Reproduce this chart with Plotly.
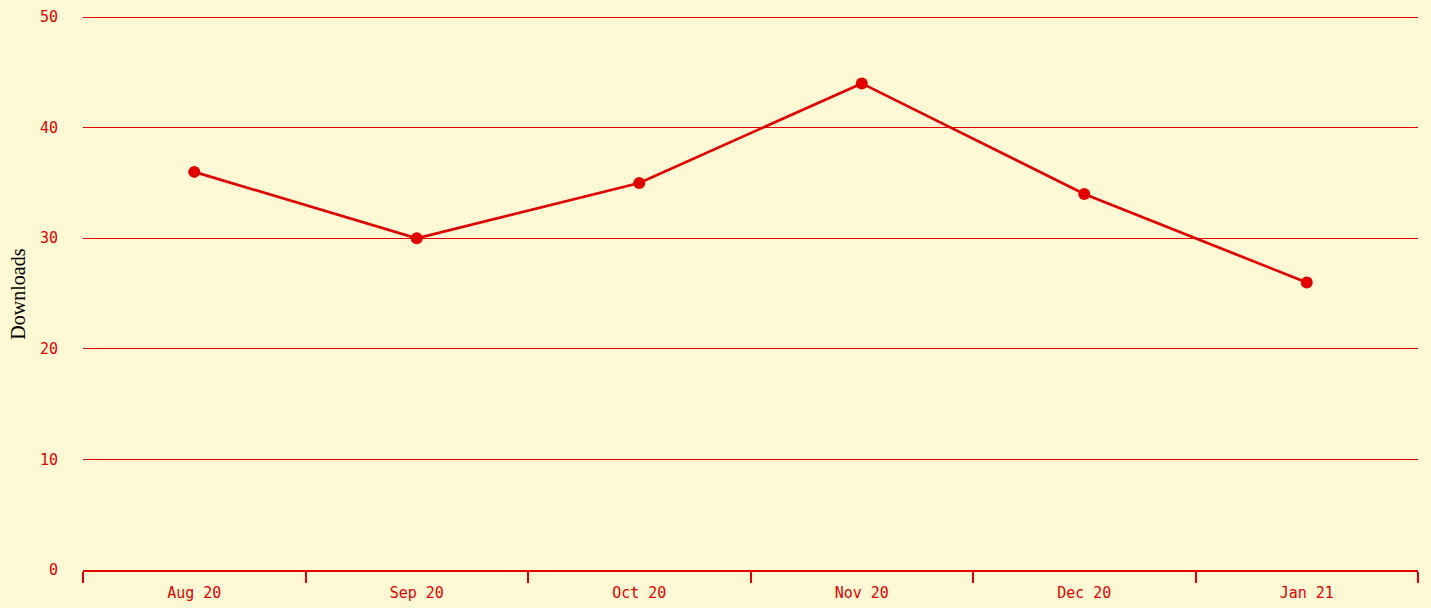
import plotly.graph_objects as go

months = ["Aug 20", "Sep 20", "Oct 20", "Nov 20", "Dec 20", "Jan 21"]
downloads = [36, 30, 35, 44, 34, 26]
y_ticks = [0, 10, 20, 30, 40, 50]

RED = "rgb(224,0,0)"
BG = "rgb(254,249,212)"

fig = go.Figure(go.Scatter(
    x=months, y=downloads, mode="lines+markers",
    line=dict(color=RED, width=2.7),
    marker=dict(color=RED, size=12),
    hoverinfo="x+y",
))

fig.update_layout(
    width=1431, height=608,
    paper_bgcolor=BG, plot_bgcolor=BG,
    margin=dict(l=83, r=13, t=6, b=38),
    showlegend=False,
    font=dict(family="DejaVu Sans Mono", size=15, color=RED),
    xaxis=dict(
        type="category", tickson="boundaries", ticks="outside", ticklen=11,
        tickwidth=1.5, tickcolor=RED, showline=True, linecolor=RED, linewidth=2,
        showgrid=False, ticklabelstandoff=8, automargin=False,
        tickfont=dict(family="DejaVu Sans Mono", size=15, color=RED),
        range=[-0.5, 5.5],
    ),
    yaxis=dict(
        range=[0, 51], tickvals=y_ticks, showgrid=True, gridcolor=RED, gridwidth=1.4,
        zeroline=False, showline=False, ticks="", ticklabelstandoff=24, automargin=False,
        tickfont=dict(family="DejaVu Sans Mono", size=15, color=RED),
    ),
    annotations=[dict(
        text="Downloads", xref="paper", yref="paper", x=-0.0487, y=0.490,
        xanchor="center", yanchor="middle", textangle=-90, showarrow=False,
        font=dict(family="Liberation Serif", size=20, color="black"),
    )],
)

fig.write_html("out.html", config={"displayModeBar": False},
               post_script="document.body.style.margin='0';document.body.style.padding='0';")
